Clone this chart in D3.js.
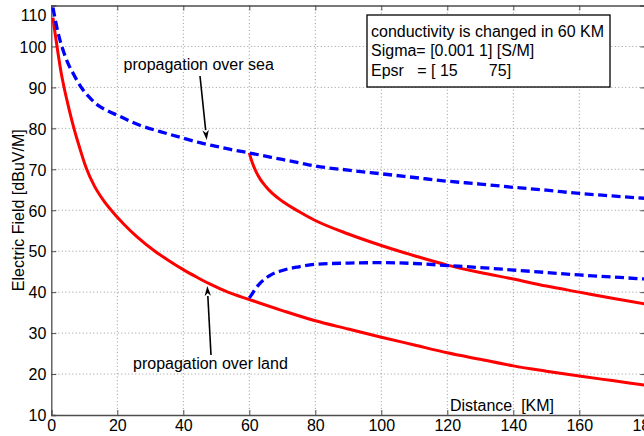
<!DOCTYPE html>
<html><head><meta charset="utf-8">
<script src="https://cdn.jsdelivr.net/npm/d3@7"></script>
<style>
html,body{margin:0;padding:0;background:#fff;}
svg{display:block;font-family:"Liberation Sans",Arial,Helvetica,sans-serif;}
</style></head>
<body>
<script>
// ---- data ----
const xTicks = [0,20,40,60,80,100,120,140,160,180];
const yTicks = [10,20,30,40,50,60,70,80,90,100,110];

const landDist = [0.5,1,2,3,4,5,6.7,8.5,10.5,13,15.8,18.8,22,26,31.4,36,40,44,48,53.5,60,70,80,90,100,110,120,130,140,150,160,170,180];
const landVal  = [107,104,98.5,93.5,89.5,86,80.5,75.5,70.5,66,62.4,59.4,56.6,53.5,50,47.5,45.5,43.7,42,40,38.2,35.5,33,31,29,27.1,25.2,23.6,22,20.7,19.5,18.4,17.3];

const seaDist = [0.5,2,3.6,5,6.7,8,9.7,12,14.2,17,20,27,33,40,45,50,54,60,70,75,80,90,100,110,120,130,140,150,160,170,180];
const seaVal  = [109.5,103.5,99,96,93.3,91.4,89.3,87.2,85.6,84.3,83.2,80.7,79.2,77.6,76.5,75.6,74.9,74,72.4,71.6,70.8,69.8,68.9,68,67.1,66.4,65.6,64.9,64.1,63.5,62.9];

const landSeaDist = [60,60.5,61,62,63.3,65,67,70,75,80,90,100,110,120,130,140,150,160,170,180];
const landSeaVal  = [74,72.6,71.4,69.5,67.6,65.8,64.1,62.2,59.7,57.5,54.2,51.4,48.9,46.6,44.8,43.2,41.5,40,38.5,37.1];

const seaLandDist = [60,60.7,62,63.3,66.3,70,75,80,90,100,110,120,130,140,150,160,170,180];
const seaLandVal  = [38.6,39.4,41,42.2,44.1,45.3,46.2,46.8,47.1,47.2,47,46.5,46,45.4,44.8,44.2,43.7,43.2];

const infoLines = ["conductivity is changed in 60 KM","Sigma= [0.001 1] [S/M]","Epsr   = [ 15       75]"];

// ---- layout ----
const W=644,H=436;
const L=51.3,R=645.3,T=5.5,B=415;
const x=d3.scaleLinear().domain([0,180]).range([L,R]);
const y=d3.scaleLinear().domain([10,110]).range([B,T]);

const svg=d3.select("body").append("svg").attr("width",W).attr("height",H);
svg.append("defs").append("clipPath").attr("id","clip")
  .append("rect").attr("x",L).attr("y",T).attr("width",R-L).attr("height",B-T);

// grid
const grid=svg.append("g");
grid.selectAll("line.gx").data(xTicks.slice(1)).join("line")
  .attr("x1",d=>x(d)).attr("x2",d=>x(d)).attr("y1",T).attr("y2",B)
  .attr("stroke","#9a9a9a").attr("stroke-width",1).attr("stroke-dasharray","1,2.5");
grid.selectAll("line.gy").data(yTicks.slice(1,-1)).join("line")
  .attr("y1",d=>y(d)).attr("y2",d=>y(d)).attr("x1",L).attr("x2",R)
  .attr("stroke","#9a9a9a").attr("stroke-width",1).attr("stroke-dasharray","1,2.5");

// axes (MATLAB style, inward ticks)
const axCol="#4d4d4d";
const gx=svg.append("g").attr("transform",`translate(0,${B})`)
  .call(d3.axisBottom(x).tickValues(xTicks).tickSize(-5).tickPadding(5).tickFormat(d3.format("d")));
const gxt=svg.append("g").attr("transform",`translate(0,${T})`)
  .call(d3.axisTop(x).tickValues(xTicks).tickSize(-5).tickFormat(""));
const gy=svg.append("g").attr("transform",`translate(${L},0)`)
  .call(d3.axisLeft(y).tickValues(yTicks).tickSize(-5).tickPadding(5).tickFormat(d3.format("d")));
const gyr=svg.append("g").attr("transform",`translate(${R},0)`)
  .call(d3.axisRight(y).tickValues(yTicks).tickSize(-5).tickFormat(""));
[gx,gxt,gy,gyr].forEach(g=>{
  g.selectAll("path").attr("stroke",axCol).attr("stroke-width",1.3);
  g.selectAll("line").attr("stroke",axCol);
  g.selectAll("text").attr("fill","#000").style("font-size","16px").style("font-family",'"Liberation Sans",Arial,sans-serif');
});
gx.selectAll("text").attr("dy","0.7em");
gy.selectAll("text").attr("dy","0.36em");
// top label sits a little lower, as in the reference
gy.selectAll(".tick").filter(d=>d===110).select("text").attr("dy","0.36em").attr("y",9.5);

// curves
const line=d3.line().x(d=>x(d[0])).y(d=>y(d[1])).curve(d3.curveMonotoneX);
const plot=svg.append("g").attr("clip-path","url(#clip)");
const zip=(a,b)=>a.map((v,i)=>[v,b[i]]);
plot.append("path").attr("d",line(zip(landDist,landVal)))
  .attr("fill","none").attr("stroke","#ff0000").attr("stroke-width",3);
plot.append("path").attr("d",line(zip(landSeaDist,landSeaVal)))
  .attr("fill","none").attr("stroke","#ff0000").attr("stroke-width",3);
plot.append("path").attr("d",line(zip(seaDist,seaVal)))
  .attr("fill","none").attr("stroke","#0000ff").attr("stroke-width",3.3).attr("stroke-dasharray","9,4.5");
plot.append("path").attr("d",line(zip(seaLandDist,seaLandVal)))
  .attr("fill","none").attr("stroke","#0000ff").attr("stroke-width",3.3).attr("stroke-dasharray","9,4.5");

// labels
svg.append("text").attr("x",450).attr("y",411).attr("xml:space","preserve")
  .style("font-size","16px").style("white-space","pre").text("Distance  [KM]");
svg.append("text").attr("transform",`translate(24,${(T+B)/2}) rotate(-90)`)
  .attr("text-anchor","middle").style("font-size","16px").text("Electric Field [dBuV/M]");

// info box
svg.append("rect").attr("x",367).attr("y",15).attr("width",243).attr("height",72)
  .attr("fill","#fff").attr("stroke","#000").attr("stroke-width",1.3);
svg.append("g").selectAll("text").data(infoLines).join("text")
  .attr("x",371).attr("y",(d,i)=>36.5+i*19.5).attr("xml:space","preserve")
  .style("font-size","16px").style("white-space","pre").text(d=>d);

// annotations with arrows
function arrow(x1,y1,x2,y2){
  const g=svg.append("g");
  const a=Math.atan2(y2-y1,x2-x1), len=10, hw=3.2;
  const bx=x2-len*Math.cos(a), by=y2-len*Math.sin(a);
  g.append("line").attr("x1",x1).attr("y1",y1).attr("x2",bx).attr("y2",by)
    .attr("stroke","#000").attr("stroke-width",1.6);
  const px=-Math.sin(a)*hw, py=Math.cos(a)*hw;
  g.append("path").attr("d",`M${x2},${y2}L${bx+px},${by+py}L${bx+len*0.3*Math.cos(a)},${by+len*0.3*Math.sin(a)}L${bx-px},${by-py}Z`)
    .attr("fill","#000");
}
svg.append("text").attr("x",123.5).attr("y",70).style("font-size","16px").text("propagation over sea");
arrow(200,76,206.7,140);
svg.append("text").attr("x",133).attr("y",369).style("font-size","16px").text("propagation over land");
arrow(211,355,207.3,286);
</script>
</body></html>
